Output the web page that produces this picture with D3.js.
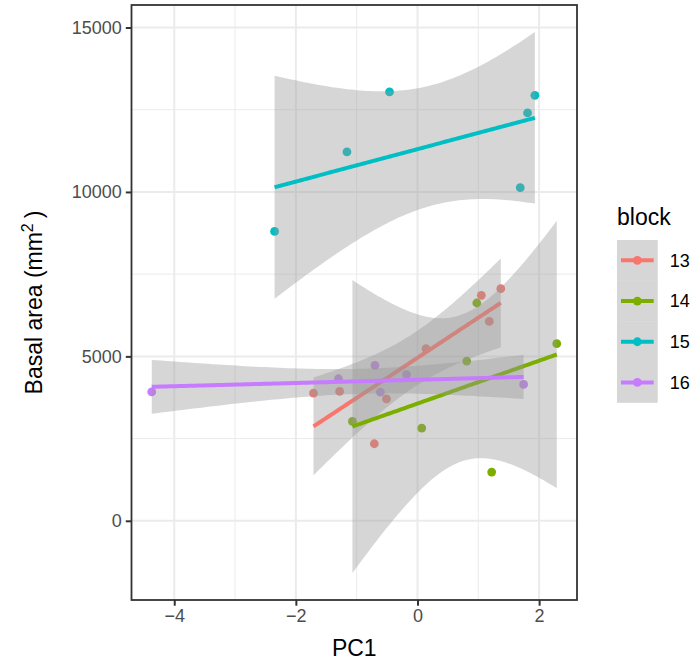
<!DOCTYPE html>
<html>
<head>
<meta charset="utf-8">
<script src="https://cdn.jsdelivr.net/npm/d3@7/dist/d3.min.js"></script>
<style>
  body { margin: 0; background: #fff; }
  text { font-family: "Liberation Sans", Arial, sans-serif; }
</style>
</head>
<body>
<div id="chart"></div>
<script>
// data, one pair of arrays per block
var blocks = ["13", "14", "15", "16"];
var colours = ["#F8766D", "#7CAE00", "#00BFC4", "#C77CFF"];

var pc1_13 = [-1.71, -1.28, -0.71, -0.51, 0.14, 1.05, 1.18, 1.37];
var basal_13 = [3885, 3934, 2343, 3705, 5233, 6855, 6064, 7058];

var pc1_14 = [-1.07, 0.07, 0.81, 0.975, 1.22, 2.29];
var basal_14 = [3021, 2820, 4858, 6623, 1481, 5385];

var pc1_15 = [-2.35, -1.16, -0.46, 1.69, 1.81, 1.93];
var basal_15 = [8800, 11217, 13042, 10131, 12403, 12939];

var pc1_16 = [-4.37, -1.30, -0.70, -0.61, -0.18, 1.745];
var basal_16 = [3920, 4320, 4725, 3915, 4442, 4147];

var xTicks = [-4, -2, 0, 2];
var xMinor = [-3, -1, 1];
var yTicks = [0, 5000, 10000, 15000];
var yMinor = [2500, 7500, 12500];

// 97.5% t quantiles by degrees of freedom
var tq = {4: 2.776445, 6: 2.446912};

var groups = [
  {block: "13", x: pc1_13, y: basal_13},
  {block: "14", x: pc1_14, y: basal_14},
  {block: "15", x: pc1_15, y: basal_15},
  {block: "16", x: pc1_16, y: basal_16}
];

// lm fit with 95% confidence band, like geom_smooth(method = "lm")
function fit(xs, ys) {
  var n = xs.length,
      mx = d3.mean(xs), my = d3.mean(ys),
      sxx = d3.sum(xs, function(v) { return (v - mx) * (v - mx); }),
      sxy = d3.sum(xs, function(v, i) { return (v - mx) * (ys[i] - my); }),
      b = sxy / sxx, a = my - b * mx,
      sse = d3.sum(xs, function(v, i) { var r = ys[i] - (a + b * v); return r * r; }),
      s = Math.sqrt(sse / (n - 2)),
      t = tq[n - 2];
  var ext = d3.extent(xs);
  return d3.range(80).map(function(i) {
    var xv = ext[0] + (ext[1] - ext[0]) * i / 79,
        yv = a + b * xv,
        se = s * Math.sqrt(1 / n + (xv - mx) * (xv - mx) / sxx);
    return {x: xv, y: yv, lo: yv - t * se, hi: yv + t * se};
  });
}

groups.forEach(function(g) { g.fit = fit(g.x, g.y); });

var W = 697, H = 661;
var panel = {left: 131.5, right: 577, top: 5, bottom: 600};

var allX = d3.merge(groups.map(function(g) { return g.x; }));
var allY = d3.merge(groups.map(function(g) {
  return g.y.concat(g.fit.map(function(d) { return d.lo; }), g.fit.map(function(d) { return d.hi; }));
}));
var xe = d3.extent(allX), ye = d3.extent(allY);
var xp = (xe[1] - xe[0]) * 0.05, yp = (ye[1] - ye[0]) * 0.05;

var x = d3.scaleLinear().domain([xe[0] - xp, xe[1] + xp]).range([panel.left, panel.right]);
var y = d3.scaleLinear().domain([ye[0] - yp, ye[1] + yp]).range([panel.bottom, panel.top]);
var colour = d3.scaleOrdinal().domain(blocks).range(colours);

var svg = d3.select("#chart").append("svg")
  .attr("width", W).attr("height", H);

svg.append("rect")
  .attr("width", W).attr("height", H).attr("fill", "#fff");

var g = svg.append("g");

// grid
g.selectAll(".xminor").data(xMinor).enter().append("line")
  .attr("x1", function(d) { return x(d); }).attr("x2", function(d) { return x(d); })
  .attr("y1", panel.top).attr("y2", panel.bottom)
  .attr("stroke", "#EBEBEB").attr("stroke-width", 1);
g.selectAll(".yminor").data(yMinor).enter().append("line")
  .attr("y1", function(d) { return y(d); }).attr("y2", function(d) { return y(d); })
  .attr("x1", panel.left).attr("x2", panel.right)
  .attr("stroke", "#EBEBEB").attr("stroke-width", 1);
g.selectAll(".xmajor").data(xTicks).enter().append("line")
  .attr("x1", function(d) { return x(d); }).attr("x2", function(d) { return x(d); })
  .attr("y1", panel.top).attr("y2", panel.bottom)
  .attr("stroke", "#EBEBEB").attr("stroke-width", 2);
g.selectAll(".ymajor").data(yTicks).enter().append("line")
  .attr("y1", function(d) { return y(d); }).attr("y2", function(d) { return y(d); })
  .attr("x1", panel.left).attr("x2", panel.right)
  .attr("stroke", "#EBEBEB").attr("stroke-width", 2);

// points first, smooths drawn over them
groups.forEach(function(gr) {
  g.selectAll(null).data(gr.x).enter().append("circle")
    .attr("cx", function(d) { return x(d); })
    .attr("cy", function(d, i) { return y(gr.y[i]); })
    .attr("r", 4.4)
    .attr("fill", colour(gr.block));
});

var area = d3.area()
  .x(function(d) { return x(d.x); })
  .y0(function(d) { return y(d.lo); })
  .y1(function(d) { return y(d.hi); });
var line = d3.line()
  .x(function(d) { return x(d.x); })
  .y(function(d) { return y(d.y); });

groups.forEach(function(gr) {
  g.append("path").datum(gr.fit)
    .attr("d", area)
    .attr("fill", "#999999").attr("fill-opacity", 0.4);
  g.append("path").datum(gr.fit)
    .attr("d", line)
    .attr("fill", "none")
    .attr("stroke", colour(gr.block))
    .attr("stroke-width", 4);
});

// panel border
g.append("rect")
  .attr("x", panel.left).attr("y", panel.top)
  .attr("width", panel.right - panel.left).attr("height", panel.bottom - panel.top)
  .attr("fill", "none").attr("stroke", "#333333").attr("stroke-width", 1.8);

// axes
var xAxis = svg.append("g")
  .attr("transform", "translate(0," + panel.bottom + ")")
  .call(d3.axisBottom(x).tickValues(xTicks).tickSize(5.7).tickPadding(4)
    .tickFormat(function(d) { return d3.format("")(d).replace("-", "\u2212"); }));
var yAxis = svg.append("g")
  .attr("transform", "translate(" + panel.left + ",0)")
  .call(d3.axisLeft(y).tickValues(yTicks).tickSize(5.7).tickPadding(4)
    .tickFormat(d3.format("d")));

[xAxis, yAxis].forEach(function(ax) {
  ax.select(".domain").remove();
  ax.selectAll(".tick line").attr("stroke", "#333333").attr("stroke-width", 2);
  ax.selectAll(".tick text")
    .attr("fill", "#4D4D4D")
    .style("font-size", "18px")
    .style("font-family", "'Liberation Sans', Arial, sans-serif");
});

svg.append("text")
  .attr("x", (panel.left + panel.right) / 2).attr("y", 656)
  .attr("text-anchor", "middle")
  .style("font-size", "23px")
  .text("PC1");

var yt = svg.append("text")
  .attr("transform", "translate(42," + ((panel.top + panel.bottom) / 2) + ") rotate(-90)")
  .attr("text-anchor", "middle")
  .style("font-size", "23px");
yt.append("tspan").text("Basal area (mm");
yt.append("tspan").attr("dy", -9).style("font-size", "16px").text("2");
yt.append("tspan").attr("dy", 9).attr("dx", 5).text(")");

// legend
var leg = svg.append("g").attr("transform", "translate(617,0)");
leg.append("text")
  .attr("x", 0).attr("y", 225)
  .style("font-size", "23px")
  .text("block");

var keySize = 40.7, keyTop = 240;
var keys = leg.selectAll(".key").data(blocks).enter().append("g")
  .attr("transform", function(d, i) { return "translate(0," + (keyTop + i * keySize) + ")"; });
keys.append("rect")
  .attr("width", keySize).attr("height", keySize)
  .attr("fill", "#999999").attr("fill-opacity", 0.4);
keys.append("line")
  .attr("x1", 4).attr("x2", keySize - 4)
  .attr("y1", keySize / 2).attr("y2", keySize / 2)
  .attr("stroke", function(d) { return colour(d); })
  .attr("stroke-width", 4);
keys.append("circle")
  .attr("cx", keySize / 2).attr("cy", keySize / 2).attr("r", 4.4)
  .attr("fill", function(d) { return colour(d); });
keys.append("text")
  .attr("x", keySize + 12).attr("y", keySize / 2)
  .attr("dy", "0.35em")
  .style("font-size", "18px")
  .text(function(d) { return d; });
</script>
</body>
</html>
